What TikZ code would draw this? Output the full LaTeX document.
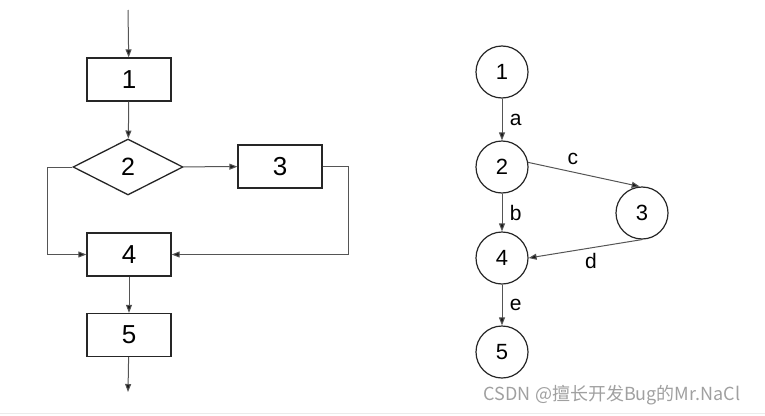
\documentclass[tikz,border=0pt]{standalone}
\usepackage{xcolor}
\usepackage{fontspec}
\setmainfont{Liberation Sans}
\newfontfamily\cjk{Noto Sans CJK SC}
\usetikzlibrary{positioning,arrows.meta,shapes.geometric}

\definecolor{edgegray}{HTML}{555555}
\definecolor{markgray}{HTML}{A0A0A0}

\begin{document}
\begin{tikzpicture}[x=1pt, y=-1pt,
  box/.style={draw=black!85, line width=1.3pt, minimum width=84pt, minimum height=43pt, inner sep=0pt, font=\fontsize{26}{26}\selectfont},
  choice/.style={draw=black!85, line width=1.3pt, diamond, minimum width=110pt, minimum height=56pt, inner sep=0pt, font=\fontsize{25}{25}\selectfont},
  vertex/.style={draw=black!85, line width=1.2pt, circle, minimum size=52pt, inner sep=0pt, font=\fontsize{22}{22}\selectfont},
  flow/.style={-{Triangle[length=8pt, width=6pt, fill=black!90]}, draw=edgegray, line width=1pt},
  lbl/.style={font=\fontsize{21}{21}\selectfont}]
\useasboundingbox (0,0) rectangle (765,415);
\draw[black!8, line width=1pt] (0,413) -- (765,413);

% flow chart
\coordinate (start) at (128,10);
\node[box] (b1) at (129,79.5) {1};
\node[choice] (d2) at (128,167) {2};
\node[box] (b3) at (280,166.5) {3};
\node[box] (b4) at (129,254.5) {4};
\node[box] (b5) at (129,335) {5};
\coordinate (stop) at (128,392);
\draw[flow] (start) -- (b1);
\draw[flow] (b1) -- (d2);
\draw[flow] (d2) -- (b3);
\draw[flow] (d2.west) -- ++(-25,0) |- (b4.west);
\draw[flow] (b3.east) -- ++(26,0) |- (b4.east);
\draw[flow] (b4) -- (b5);
\draw[flow] (b5) -- (stop);

% flow graph
\node[vertex] (n1) at (502,72) {1};
\node[vertex] (n2) at (502,167) {2};
\node[vertex] (n3) at (642,213) {3};
\node[vertex] (n4) at (502,258) {4};
\node[vertex] (n5) at (502,352) {5};
\draw[flow] (n1) -- node[lbl, right=4pt]{a} (n2);
\draw[flow] (n2.10) -- node[lbl, above=3pt, pos=0.4]{c} (n3.95);
\draw[flow] (n2) -- node[lbl, right=4pt]{b} (n4);
\draw[flow] (n3.south) -- node[lbl, below=2pt, pos=0.45]{d} (n4.east);
\draw[flow] (n4) -- node[lbl, right=4pt]{e} (n5);

\node[text=markgray, font=\cjk\fontsize{18}{18}\selectfont] (mark) at (612,395) {CSDN @擅长开发Bug的Mr.NaCl};
\end{tikzpicture}
\end{document}
